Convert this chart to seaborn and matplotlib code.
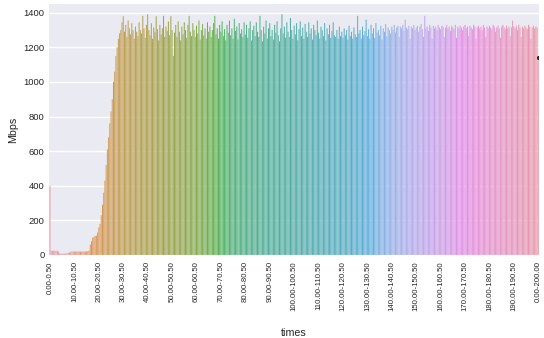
import matplotlib
matplotlib.use("Agg")
import matplotlib.pyplot as plt
import seaborn as sns
import pandas as pd

# throughput per 0.5 s interval (Mbps)
interval_mbps = [
    400, 25, 24, 25, 25, 24, 25, 20, 10, 8, 7, 7, 8, 9, 10, 12, 15, 18, 20, 20,
    21, 20, 20, 21, 20, 20, 20, 21, 20, 20, 21, 22, 25, 60, 80, 100, 105, 110, 112, 130,
    160, 180, 230, 290, 360, 430, 520, 610, 680, 760, 830, 900, 1000, 1060, 1150, 1200, 1250, 1280, 1300, 1345,
    1380, 1290, 1330, 1260, 1355, 1310, 1275, 1340, 1300, 1250, 1320, 1290, 1265, 1345, 1300, 1280, 1382, 1310, 1255, 1330,
    1392, 1300, 1270, 1340, 1250, 1315, 1290, 1380, 1305, 1240, 1330, 1275, 1310, 1382, 1260, 1320, 1295, 1350, 1270, 1380,
    1300, 1150, 1285, 1330, 1260, 1350, 1290, 1240, 1320, 1275, 1345, 1300, 1255, 1330, 1382, 1290, 1265, 1340, 1300, 1260,
    1325, 1280, 1355, 1245, 1300, 1335, 1270, 1310, 1250, 1345, 1290, 1320, 1260, 1300, 1340, 1382, 1275, 1310, 1250, 1330,
    1290, 1350, 1265, 1305, 1240, 1330, 1285, 1355, 1270, 1310, 1250, 1365, 1295, 1320, 1245, 1340, 1280, 1305, 1260, 1345,
    1275, 1330, 1255, 1310, 1350, 1240, 1300, 1325, 1265, 1345, 1290, 1260, 1382, 1300, 1235, 1320, 1280, 1355, 1250, 1310,
    1340, 1265, 1300, 1245, 1330, 1285, 1350, 1270, 1235, 1310, 1392, 1280, 1320, 1255, 1345, 1290, 1260, 1370, 1300, 1250,
    1325, 1275, 1340, 1240, 1305, 1350, 1265, 1315, 1250, 1335, 1290, 1260, 1345, 1280, 1310, 1245, 1330, 1300, 1270, 1355,
    1285, 1250, 1320, 1300, 1265, 1340, 1240, 1310, 1275, 1330, 1255, 1295, 1345, 1270, 1260, 1300, 1250, 1320, 1265, 1290,
    1255, 1310, 1270, 1300, 1245, 1325, 1265, 1290, 1250, 1315, 1275, 1260, 1382, 1280, 1300, 1250, 1320, 1270, 1295, 1360,
    1265, 1305, 1250, 1330, 1280, 1310, 1255, 1340, 1285, 1300, 1270, 1325, 1245, 1310, 1290, 1335, 1265, 1315, 1300, 1280,
    1320, 1300, 1330, 1285, 1315, 1325, 1260, 1320, 1310, 1330, 1295, 1360, 1315, 1305, 1325, 1250, 1320, 1310, 1330, 1300,
    1315, 1325, 1290, 1320, 1335, 1305, 1260, 1382, 1310, 1320, 1295, 1330, 1315, 1250, 1325, 1310, 1320, 1300, 1330, 1315,
    1305, 1325, 1320, 1260, 1315, 1330, 1310, 1320, 1295, 1325, 1315, 1305, 1330, 1255, 1320, 1310, 1325, 1315, 1300, 1320,
    1330, 1310, 1320, 1265, 1325, 1315, 1305, 1330, 1320, 1250, 1315, 1325, 1310, 1320, 1300, 1330, 1315, 1260, 1320, 1310,
    1325, 1315, 1305, 1330, 1320, 1290, 1315, 1325, 1310, 1255, 1320, 1330, 1315, 1305, 1325, 1310, 1320, 1265, 1315, 1355,
    1320, 1310, 1325, 1300, 1330, 1315, 1260, 1320, 1310, 1325, 1315, 1305, 1330, 1320, 1250, 1315, 1325, 1310, 1320, 1315,
]
# whole-run summary (sender, receiver)
summary_label = "0.00-200.00"
summary_mbps = [1145, 1138]

interval_labels = [f"{i * 0.5:.2f}-{(i + 1) * 0.5:.2f}" for i in range(len(interval_mbps))]
categories = interval_labels + [summary_label]

df = pd.DataFrame({
    "times": interval_labels + [summary_label] * len(summary_mbps),
    "Mbps": interval_mbps + summary_mbps,
})
df["times"] = pd.Categorical(df["times"], categories=categories, ordered=True)

sns.set_theme(style="darkgrid")
plt.rcParams["font.family"] = ["Liberation Sans", "DejaVu Sans"]

fig, ax = plt.subplots(figsize=(5.44, 3.38), dpi=100)
fig.subplots_adjust(left=0.0908, right=0.9906, top=0.988, bottom=0.2456)

palette = sns.husl_palette(len(categories), l=.7)
sns.barplot(data=df, x="times", y="Mbps", hue="times", palette=palette,
            saturation=0.75, legend=False, ax=ax, seed=0, width=0.85,
            linewidth=0.05, edgecolor="white",
            err_kws={"color": ".15", "linewidth": 2.2})
for p in ax.patches:
    p.set_snap(False)
for s in ax.spines.values():
    s.set_visible(False)

ax.set_ylim(0, 1450)
ax.set_xticks(range(0, len(categories), 20))
ax.set_xticklabels(categories[::20], rotation=90, fontsize=5.6)
ax.tick_params(axis="y", labelsize=6.8, pad=3.5, length=0)
ax.tick_params(axis="x", pad=4.5, length=0)
ax.set_xlabel("times", fontsize=7.7, labelpad=12)
ax.set_ylabel("Mbps", fontsize=7.7, labelpad=4)

fig.savefig("out.png", dpi=100)
